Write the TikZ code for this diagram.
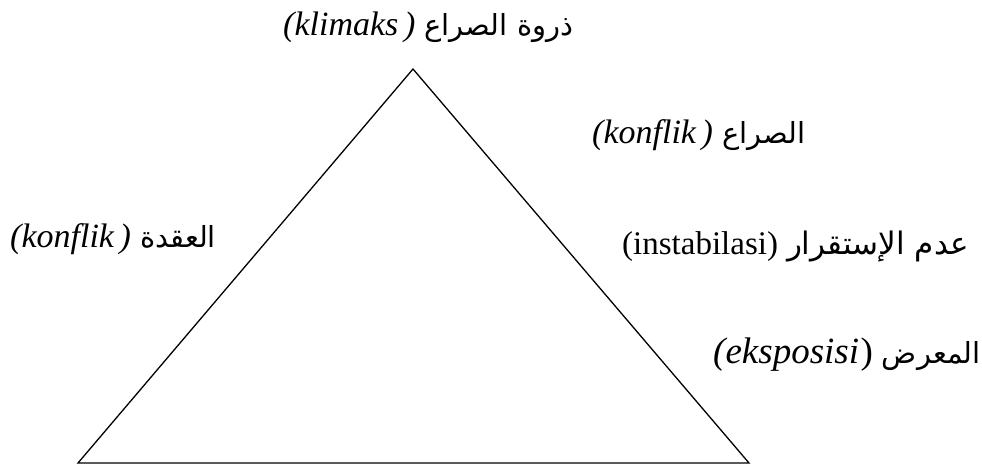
\documentclass[tikz,border=0pt]{standalone}
\usepackage{fontspec}
\setmainfont{Liberation Serif}
\newfontfamily\arabicfont[Script=Arabic]{DejaVu Sans}
\TeXXeTstate=1
% text helpers
\newcommand\arsz[2]{{\arabicfont\fontsize{#1}{34}\selectfont #2}}
\newcommand\ar[1]{\arsz{29}{#1}}
\newcommand\gap{\hspace{9pt}}
\newcommand\lt[1]{\beginL{\itshape\fontsize{34}{38}\selectfont #1}\endL}
\newcommand\lu[1]{\beginL{\fontsize{33}{37}\selectfont #1}\endL}
\begin{document}
\begin{tikzpicture}[x=1pt,y=-1pt]
\tikzset{
  edge/.style={line width=1.3pt, line join=miter},
  lbl/.style={anchor=base west, inner sep=0pt}
}
\useasboundingbox (0,0) rectangle (982,464);
% the triangle
\coordinate (apex) at (413,69);
\coordinate (bl) at (78,463);
\coordinate (br) at (749,463);
\draw[edge] (apex) -- (br) -- (bl) -- cycle;
% labels
\node[lbl] (klimaks) at (283,35) {\beginR\ar{ذروة الصراع}\gap\lt{(klimaks\,)}\endR};
\node[lbl] (konflikR) at (592,143) {\beginR\ar{الصراع}\gap\lt{(konflik\,)}\endR};
\node[lbl] (konflikL) at (10,247) {\beginR\ar{العقدة}\gap\lt{(konflik\,)}\endR};
\node[lbl] (instab) at (622,254) {\beginR\arsz{31}{عدم الإستقرار}\gap\lu{(instabilasi)}\endR};
\node[lbl] (ekspo) at (713,363) {\beginR\ar{المعرض}\gap\beginL{\fontsize{37}{40}\selectfont{\itshape(eksposisi}\kern1.5pt)}\endL\endR};
\end{tikzpicture}
\end{document}
